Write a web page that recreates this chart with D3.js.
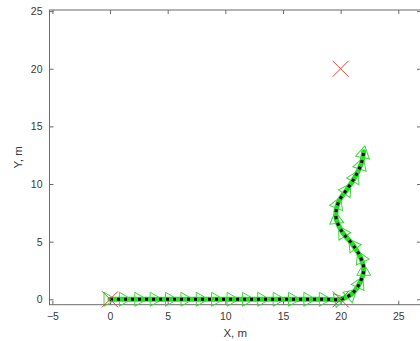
<!DOCTYPE html>
<html>
<head>
<meta charset="utf-8">
<script src="https://cdn.jsdelivr.net/npm/d3@7"></script>
<style>
  body { margin: 0; background: #fff; }
  svg { display: block; font-family: "Liberation Sans", Arial, sans-serif; }
</style>
</head>
<body>
<svg width="420" height="341"></svg>
<script>
// trajectory samples (m)
const pathX = [0, 1.33, 2.67, 4, 5.33, 6.67, 8, 9.33, 10.67, 12, 13.33, 14.67, 16, 17.33, 18.67, 20,
               21.0, 21.7, 22.0, 21.7, 21.0, 20.1, 19.6, 19.8, 20.6, 21.3, 21.8, 22.0];
const pathY = [0, 0, 0, 0, 0, 0, 0, 0, 0, 0, 0, 0, 0, 0, 0, 0,
               0.5, 1.5, 2.6, 3.7, 4.8, 5.9, 7.1, 8.4, 9.6, 10.7, 11.8, 12.8];
// waypoints (red crosses)
const wayX = [0, 20, 20];
const wayY = [0, 0, 20];

const xTicks = [-5, 0, 5, 10, 15, 20, 25];
const yTicks = [0, 5, 10, 15, 20, 25];

const pts = pathX.map((x, i) => ({x: x, y: pathY[i]}));

const mLeft = 49.5, mRight = 421, mTop = 10, mBottom = 304.7;

const xScale = d3.scaleLinear().domain([-5.25, 26.97]).range([mLeft, mRight]);
const yScale = d3.scaleLinear().domain([-0.47, 25.1]).range([mBottom, mTop]);

const svg = d3.select('svg');
const axisColor = '#6a6a6a';

// frame
svg.append('rect')
    .attr('x', mLeft).attr('y', mTop)
    .attr('width', mRight - mLeft).attr('height', mBottom - mTop)
    .attr('fill', 'none').attr('stroke', axisColor).attr('stroke-width', 1);

// axes, ticks pointing inward
const xb = svg.append('g').attr('transform', `translate(0,${mBottom})`)
    .call(d3.axisBottom(xScale).tickValues(xTicks).tickSizeInner(-4).tickSizeOuter(0).tickPadding(8));
const xt = svg.append('g').attr('transform', `translate(0,${mTop})`)
    .call(d3.axisTop(xScale).tickValues(xTicks).tickSizeInner(-4).tickSizeOuter(0).tickFormat(''));
const yl = svg.append('g').attr('transform', `translate(${mLeft},0)`)
    .call(d3.axisLeft(yScale).tickValues(yTicks).tickSizeInner(-4).tickSizeOuter(0).tickPadding(7));
const yr = svg.append('g').attr('transform', `translate(${mRight},0)`)
    .call(d3.axisRight(yScale).tickValues(yTicks).tickSizeInner(-4).tickSizeOuter(0).tickFormat(''));

[xb, xt, yl, yr].forEach(g => {
  g.select('.domain').remove();
  g.selectAll('line').attr('stroke', axisColor);
  g.selectAll('text').attr('fill', '#3a3a3a').attr('font-size', '10.5px')
      .attr('font-family', '"Liberation Sans", Arial, sans-serif');
});

// axis labels
svg.append('text')
    .attr('x', (mLeft + mRight) / 2).attr('y', 337)
    .attr('text-anchor', 'middle').attr('font-size', '11.5px').attr('fill', '#3a3a3a')
    .text('X, m');
svg.append('text')
    .attr('transform', `translate(22,${(mTop + mBottom) / 2}) rotate(-90)`)
    .attr('text-anchor', 'middle').attr('font-size', '11.5px').attr('fill', '#3a3a3a')
    .text('Y, m');

const plot = svg.append('g');

const line = d3.line()
    .x(d => xScale(d.x))
    .y(d => yScale(d.y))
    .curve(d3.curveCatmullRom.alpha(0.5));

// thick green trace
plot.append('path')
    .datum(pts)
    .attr('d', line)
    .attr('fill', 'none')
    .attr('stroke', '#1fe01f')
    .attr('stroke-width', 5)
    .attr('stroke-linecap', 'round');

// heading triangles
const heading = (i) => {
  const a = pts[Math.max(0, i - 1)], b = pts[Math.min(pts.length - 1, i + 1)];
  return Math.atan2(-(yScale(b.y) - yScale(a.y)), xScale(b.x) - xScale(a.x));
};

plot.selectAll('.tri')
    .data(pts)
    .enter()
    .append('path')
    .classed('tri', true)
    .attr('d', 'M6,0 L-6,-7 L-6,7 Z')
    .attr('transform', (d, i) => `translate(${xScale(d.x)},${yScale(d.y)}) rotate(${-heading(i) * 180 / Math.PI})`)
    .attr('fill', 'none')
    .attr('stroke', '#3fd63f')
    .attr('stroke-width', 1);

// black dashed centre line
plot.append('path')
    .datum(pts)
    .attr('d', line)
    .attr('fill', 'none')
    .attr('stroke', '#000')
    .attr('stroke-width', 3)
    .attr('stroke-dasharray', '3,4');

// waypoint crosses
const cs = 8;
plot.selectAll('.wp')
    .data(wayX.map((x, i) => ({x: x, y: wayY[i]})))
    .enter()
    .append('path')
    .classed('wp', true)
    .attr('d', d => {
      const cx = xScale(d.x), cy = yScale(d.y);
      return `M${cx - cs},${cy - cs}L${cx + cs},${cy + cs}M${cx - cs},${cy + cs}L${cx + cs},${cy - cs}`;
    })
    .attr('stroke', '#e0453a')
    .attr('stroke-width', 1)
    .attr('fill', 'none');
</script>
</body>
</html>
